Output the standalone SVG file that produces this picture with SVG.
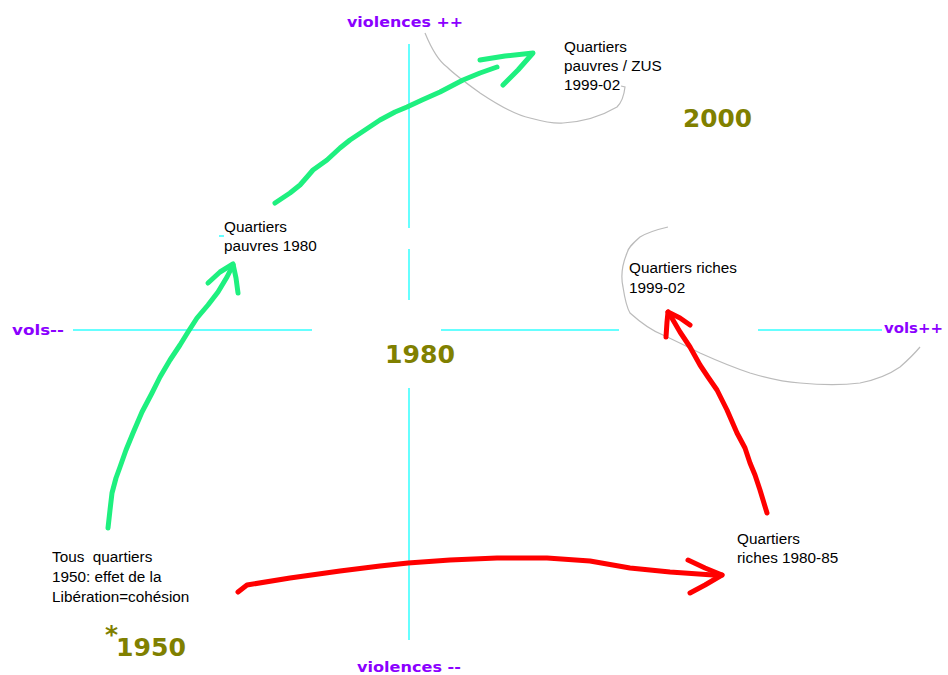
<svg xmlns="http://www.w3.org/2000/svg" width="948" height="675" viewBox="0 0 948 675">
<style>
.axis{stroke:#66ffff;stroke-width:2;fill:none}
.pole{font-family:"DejaVu Sans",Verdana,sans-serif;font-weight:bold;font-size:14px;fill:#8b00ff}
.year{font-family:"DejaVu Sans",Verdana,sans-serif;font-weight:bold;font-size:25px;fill:#808000}
.lbl{font-family:"Liberation Sans",Arial,sans-serif;font-size:15.3px;fill:#000}
.green{stroke:#1ef07f;stroke-width:5;fill:none;stroke-linecap:round;stroke-linejoin:round}
.red{stroke:#ff0000;stroke-width:5;fill:none;stroke-linecap:round;stroke-linejoin:round}
.gray{stroke:#bbbbbb;stroke-width:1.2;fill:none}
</style>
<rect width="948" height="675" fill="#ffffff"/>
<g id="axes">
<line class="axis" x1="409" y1="44" x2="409" y2="228"/>
<line class="axis" x1="409" y1="249" x2="409" y2="300"/>
<line class="axis" x1="409" y1="388" x2="409" y2="640"/>
<line class="axis" x1="73" y1="330" x2="312" y2="330"/>
<line class="axis" x1="441" y1="330" x2="619" y2="330"/>
<line class="axis" x1="758" y1="330" x2="882" y2="330"/>
<line class="axis" x1="219" y1="236" x2="224" y2="236" stroke-width="1"/>
</g>
<g id="poles">
<text class="pole" x="347" y="27" textLength="116" lengthAdjust="spacingAndGlyphs">violences ++</text>
<text class="pole" x="357" y="672" textLength="104" lengthAdjust="spacingAndGlyphs">violences --</text>
<text class="pole" x="12" y="335" textLength="52" lengthAdjust="spacingAndGlyphs">vols--</text>
<text class="pole" x="884" y="333" textLength="59" lengthAdjust="spacingAndGlyphs">vols++</text>
</g>
<g id="years">
<text class="year" x="385" y="363" textLength="70" lengthAdjust="spacingAndGlyphs">1980</text>
<text class="year" x="683" y="127" textLength="69" lengthAdjust="spacingAndGlyphs" font-size="26">2000</text>
<text class="year" x="105" y="643" font-size="16" font-style="italic">*</text>
<text class="year" x="116" y="656" textLength="70" lengthAdjust="spacingAndGlyphs">1950</text>
</g>
<g id="connectors">
<path class="gray" d="M425,33 C432,50 440,62 447,67 C455,75 462,80 480,93 C495,103 515,115 530,118 C545,122 555,124 563,123 C580,122 600,117 617,107 C622,102 624,96 625,87 L621,86"/>
<path class="gray" d="M668,227 C655,230 645,234 640,237 C632,244 628,248 627,253 C622,265 621,278 623,287 C625,300 627,308 630,313 C640,322 650,330 663,335 C680,343 690,348 700,353 C720,362 735,368 750,373 C770,379 785,382 800,383 C820,385 845,385 860,383 C875,380 890,374 900,367 C908,360 915,353 920,347"/>
<path class="green" d="M108,528 L110,510 L112,493 L116,478 L120,467 L126,450 L133,433 L142,412 L152,393 L160,377 L170,360 L180,345 L188,332 L197,318 L208,305 L218,292 L227,277 L233,265"/>
<path class="green" d="M208,283 L220,272 L233,264 L236,278 L238,293"/>
<path class="green" d="M275,203 L290,193 L300,185 L307,177 L313,170 L327,160 L340,148 L350,140 L365,130 L380,120 L395,112 L407,107 L422,100 L440,92 L463,80 L480,73 L497,67"/>
<path class="green" d="M480,60 L505,56 L533,53 L518,70 L503,85"/>
<path class="red" d="M238,592 L247,585 L290,578 L340,571 L380,566 L408,563 L450,560 L497,558 L547,558 L590,561 L630,568 L670,572 L713,575 L722,575"/>
<path class="red" d="M688,560 L705,568 L722,575 L705,585 L690,593"/>
<path class="red" d="M767,513 L760,490 L755,475 L750,463 L745,448 L737,433 L727,410 L717,390 L708,377 L700,365 L690,347 L680,332 L673,320 L668,312"/>
<path class="red" d="M666,337 L667,322 L668,312 L680,318 L690,325"/>
</g>
<g id="node-poor2000">
<text class="lbl" x="564" y="52">Quartiers</text>
<text class="lbl" x="564" y="71">pauvres / ZUS</text>
<text class="lbl" x="564" y="90">1999-02</text>
</g>
<g id="node-poor1980">
<text class="lbl" x="224" y="232">Quartiers</text>
<text class="lbl" x="224" y="251">pauvres 1980</text>
</g>
<g id="node-rich2000">
<text class="lbl" x="629" y="273">Quartiers riches</text>
<text class="lbl" x="629" y="293">1999-02</text>
</g>
<g id="node-all1950">
<text class="lbl" x="52" y="562" xml:space="preserve">Tous  quartiers</text>
<text class="lbl" x="52" y="582">1950: effet de la</text>
<text class="lbl" x="52" y="602">Libération=cohésion</text>
</g>
<g id="node-rich1980">
<text class="lbl" x="737" y="544">Quartiers</text>
<text class="lbl" x="737" y="563">riches 1980-85</text>
</g>
</svg>
